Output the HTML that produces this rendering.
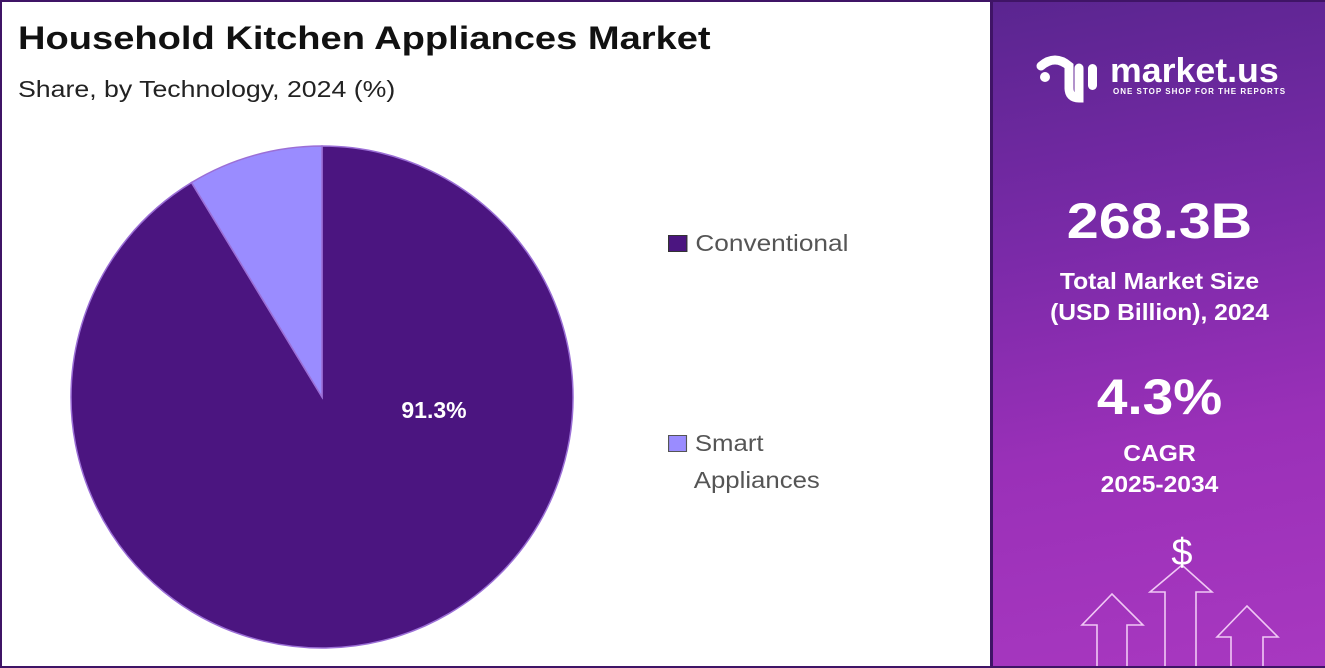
<!DOCTYPE html>
<html><head><meta charset="utf-8"><style>
body{margin:0;width:1325px;height:668px;overflow:hidden;background:#fff;font-family:"Liberation Sans",sans-serif;}
#wrap{position:absolute;left:0;top:0;width:1321px;height:664px;border:2px solid #3f1466;background:#fff;}
.t{position:absolute;white-space:nowrap;transform-origin:0 0;}
#panel{position:absolute;left:988px;top:0;width:333px;height:664px;background:linear-gradient(170deg,#5a2590 0%,#7a2aa8 35%,#9a30b8 65%,#a838c0 100%);border-left:3px solid #3f1466;}
.w{color:#fff;font-weight:bold;text-align:center;width:333px;left:0;transform-origin:50% 0;}
</style></head><body>
<div id="wrap">
<div class="t" style="left:16px;top:18px;font-size:32px;font-weight:bold;color:#111;transform:scaleX(1.19);">Household Kitchen Appliances Market</div>
<div class="t" style="left:16px;top:74px;font-size:23px;color:#222;transform:scaleX(1.16);">Share, by Technology, 2024 (%)</div>
<svg id="pie" width="985" height="664" style="position:absolute;left:0;top:0"></svg>
<div>
<div class="t" style="left:666px;top:228px;font-size:23px;color:#555;transform:scaleX(1.14);"><span style="display:inline-block;width:15px;height:15px;background:#4b1580;border:1px solid #333;margin-right:7px;vertical-align:-1px"></span>Conventional</div>
<div class="t" style="left:666px;top:423px;font-size:23px;color:#555;line-height:37px;transform:scaleX(1.12);"><span style="display:inline-block;width:15px;height:15px;background:#9a8cff;border:1px solid #555;margin-right:7px;vertical-align:-1px"></span>Smart<br><span style="padding-left:23px">Appliances</span></div>
</div>
<div id="panel">
<svg width="333" height="664" style="position:absolute;left:0;top:0">
<g fill="none" stroke="#f0c8f5" stroke-width="1.6">
<path d="M104,664 V623 H89 L119,592 L150,623 H134 V664"/>
<path d="M172,664 V590 H157 L189,563 L219,590 H203 V664"/>
<path d="M238,664 V635 H224 L254,604 L285,635 H270 V664"/>
</g>
<text x="189" y="563" fill="#fff" font-size="38" text-anchor="middle" font-family="Liberation Sans">$</text>
<g fill="#fff"><circle cx="52" cy="75" r="5"/><path d="M48,64 q14,-12 28,0 v22" stroke="#fff" stroke-width="9" fill="none" stroke-linecap="round"/><path d="M76,86 q0,10 10,10 V66" stroke="#fff" stroke-width="9" fill="none" stroke-linecap="round"/><rect x="95" y="62" width="9" height="26" rx="4.5"/></g>
</svg>
<div class="t" style="left:117px;top:50px;font-size:34px;font-weight:bold;color:#fff;transform:scaleX(1.05);">market.us</div>
<div class="t" style="left:120px;top:85px;font-size:8px;font-weight:bold;color:#fff;letter-spacing:1px;">ONE STOP SHOP FOR THE REPORTS</div>
<div class="t w" style="top:190px;font-size:50px;transform:scaleX(1.15);">268.3B</div>
<div class="t w" style="top:264px;font-size:23px;line-height:31px;transform:scaleX(1.07);">Total Market Size<br>(USD Billion), 2024</div>
<div class="t w" style="top:366px;font-size:50px;transform:scaleX(1.1);">4.3%</div>
<div class="t w" style="top:436px;font-size:23px;line-height:31px;transform:scaleX(1.07);">CAGR<br>2025-2034</div>
</div>
</div>
<script>
const categories=["Conventional","Smart Appliances"];
const values=[91.3,8.7];
const colors=["#4b1580","#9a8cff"];
const labels=["91.3%",""];
const svg=document.getElementById('pie');
const NS="http://www.w3.org/2000/svg";
const cx=320,cy=395,r=251;
const total=values.reduce((a,b)=>a+b,0);
let start=0;
values.forEach((v,i)=>{
  const a0=start/total*2*Math.PI,a1=(start+v)/total*2*Math.PI;
  start+=v;
  const p=a=>[cx+r*Math.sin(a),cy-r*Math.cos(a)];
  const [x0,y0]=p(a0),[x1,y1]=p(a1);
  const large=(a1-a0)>Math.PI?1:0;
  const path=document.createElementNS(NS,'path');
  path.setAttribute('d',`M${cx},${cy} L${x0},${y0} A${r},${r} 0 ${large} 1 ${x1},${y1} Z`);
  path.setAttribute('fill',colors[i]);
  path.setAttribute('stroke','#9b6fd6');
  path.setAttribute('stroke-width','1.5');
  
  
  svg.appendChild(path);
  if(labels[i]){
    const t=document.createElementNS(NS,'text');
    t.setAttribute('x',cx+112);t.setAttribute('y',cy+21);
    t.setAttribute('fill','#fff');t.setAttribute('font-size','23');t.setAttribute('font-weight','bold');
    t.setAttribute('text-anchor','middle');t.setAttribute('font-family','Liberation Sans');
    t.textContent=labels[i];
    
    
    svg.appendChild(t);
  }
});
</script>
</body></html>
